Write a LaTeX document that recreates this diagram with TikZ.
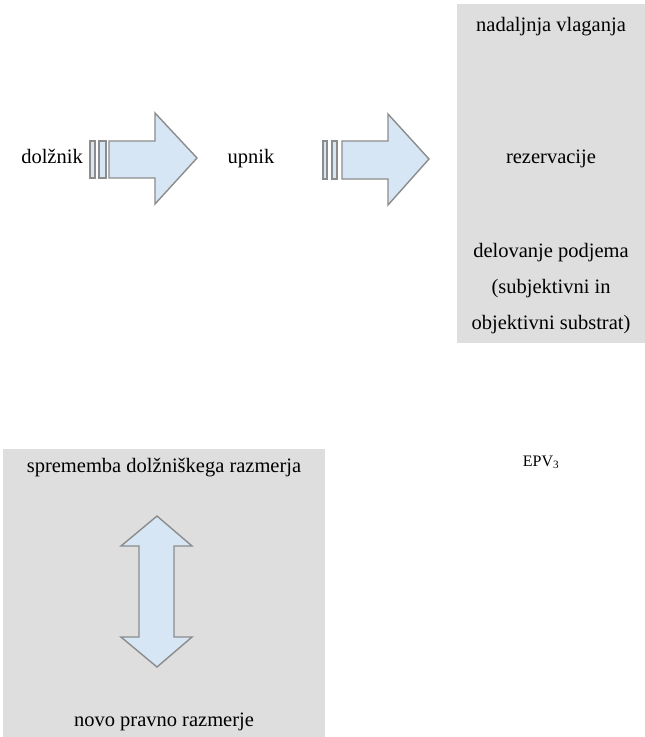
\documentclass[tikz,border=0pt]{standalone}
\usepackage{fontspec}
\setmainfont{Liberation Serif}
\definecolor{boxgray}{HTML}{DEDEDE}
\definecolor{arrowfill}{HTML}{D6E6F4}
\definecolor{arrowline}{HTML}{8C8C8C}
\tikzset{
  panel/.style={fill=boxgray, draw=none},
  arrowshape/.style={fill=arrowfill, draw=arrowline, line width=1.4pt, line join=miter},
  lbl/.style={inner sep=0pt, anchor=base, font=\fontsize{20.5}{24}\selectfont, text=black},
}
\begin{document}
\begin{tikzpicture}[x=1pt,y=-1pt]
\useasboundingbox (0,0) rectangle (645,737);
% panels
\fill[panel] (457,4) rectangle (645,343);
\fill[panel] (3,449) rectangle (325,737);
% arrow 1
\draw[arrowshape] (90,141) rectangle (95,178);
\draw[arrowshape] (99,141) rectangle (106,178);
\draw[arrowshape] (109,141) -- (155,141) -- (155,113) -- (197,158) -- (155,204) -- (155,178) -- (109,178) -- cycle;
% arrow 2
\draw[arrowshape] (323,141) rectangle (327,179);
\draw[arrowshape] (332,141) rectangle (337,179);
\draw[arrowshape] (342,141) -- (388,141) -- (388,114) -- (429,159) -- (388,205) -- (388,179) -- (342,179) -- cycle;
% vertical double arrow
\draw[arrowshape] (157,516) -- (192,546) -- (174,546) -- (174,637) -- (192,637) -- (157,667) -- (121,637) -- (139,637) -- (139,546) -- (121,546) -- cycle;
% labels
\node[lbl] (dol) at (52,163) {dolžnik};
\node[lbl] (upn) at (251,163) {upnik};
\node[lbl] (nad) at (551,31) {nadaljnja vlaganja};
\node[lbl] (rez) at (551,163) {rezervacije};
\node[lbl] (del1) at (551,257) {delovanje podjema};
\node[lbl] (del2) at (551,293) {(subjektivni in};
\node[lbl] (del3) at (551,329) {objektivni substrat)};
\node[lbl, font=\fontsize{16}{19}\selectfont] (epv) at (541,466) {EPV\textsubscript{3}};
\node[lbl] (spr) at (164,472) {sprememba dolžniškega razmerja};
\node[lbl] (nov) at (164,726) {novo pravno razmerje};
\end{tikzpicture}
\end{document}
